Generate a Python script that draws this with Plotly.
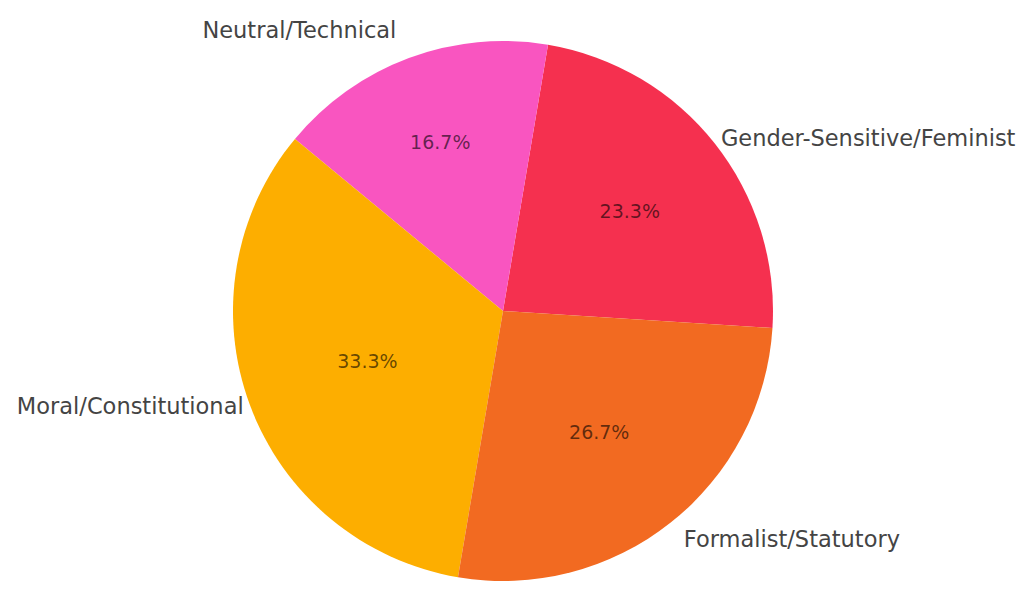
import plotly.graph_objects as go

labels = ["Gender-Sensitive/Feminist", "Neutral/Technical", "Moral/Constitutional", "Formalist/Statutory"]
values = [7, 5, 10, 8]
colors = ["#F5304F", "#F955C0", "#FDAE00", "#F26A21"]
label_pull = [0.0, 0.065, 0.0, 0.04]

W, H = 1025, 598
cx, cy, r = 503, 311, 270


def domain(rad):
    return dict(x=[max(0, (cx - rad) / W), min(1, (cx + rad) / W)],
                y=[max(0, 1 - (cy + rad) / H), min(1, 1 - (cy - rad) / H)])


fig = go.Figure()
fig.add_trace(go.Pie(
    labels=labels, values=values, sort=False,
    direction="counterclockwise", rotation=9.6,
    marker=dict(colors=colors, line=dict(width=0)),
    textinfo="percent", texttemplate="%{percent:.1%}",
    textposition="inside", insidetextorientation="horizontal",
    textfont=dict(family="DejaVu Sans", size=19, color="rgba(0,0,0,0.6)"),
    domain=domain(r), showlegend=False, hoverinfo="skip", automargin=False,
))
fig.add_trace(go.Pie(
    labels=labels, values=values, sort=False,
    direction="counterclockwise", rotation=9.6,
    pull=label_pull,
    marker=dict(colors=["rgba(0,0,0,0)"] * 4, line=dict(width=0)),
    textinfo="label", textposition="outside",
    outsidetextfont=dict(family="DejaVu Sans", size=22.5, color="#444444"),
    domain=domain(r * (1 + max(label_pull))), showlegend=False, hoverinfo="skip",
    automargin=False,
))
fig.update_layout(
    width=W, height=H, margin=dict(l=0, r=0, t=0, b=0, autoexpand=False),
    paper_bgcolor="white", plot_bgcolor="white",
)
fig.write_html("out.html")
